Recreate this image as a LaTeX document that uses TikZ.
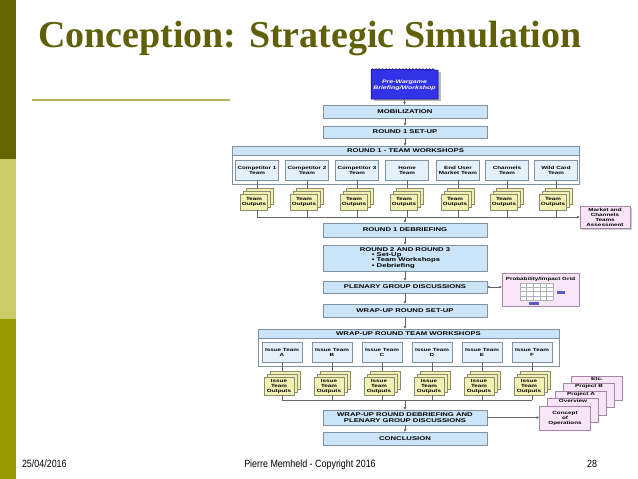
\documentclass[tikz,border=0pt]{standalone}
\usepackage{fontspec}
\setmainfont{Liberation Serif}
\newfontfamily\dsans[FakeStretch=1.4]{Liberation Sans}
\newfontfamily\fsans[FakeStretch=0.85]{Liberation Sans}
\usetikzlibrary{arrows.meta,shadows,decorations.pathmorphing}

\definecolor{olivedark}{RGB}{102,102,0}
\definecolor{olivelight}{RGB}{204,204,102}
\definecolor{olivemid}{RGB}{153,153,0}
\definecolor{titlecol}{RGB}{96,96,10}
\definecolor{ruleol}{RGB}{178,178,102}
\definecolor{flowfill}{RGB}{204,228,247}
\definecolor{flowdraw}{RGB}{130,146,165}
\definecolor{teamfill}{RGB}{228,241,251}
\definecolor{outfill}{RGB}{243,240,180}
\definecolor{outdraw}{RGB}{140,140,110}
\definecolor{pinkfill}{RGB}{248,230,248}
\definecolor{pinkdraw}{RGB}{165,135,165}
\definecolor{prefill}{RGB}{50,50,230}
\definecolor{linecol}{RGB}{100,100,100}
\definecolor{barblue}{RGB}{90,90,200}

\begin{document}
\begin{tikzpicture}[x=1pt,y=-1pt,
  every node/.style={inner sep=0pt, outer sep=0pt},
  flowbox/.style={draw=flowdraw, fill=flowfill, line width=0.6pt, minimum width=164pt,
     font=\dsans\bfseries\fontsize{5.5}{6}\selectfont, align=center},
  outerbox/.style={draw=flowdraw, fill=white, line width=0.6pt},
  headbox/.style={draw=flowdraw, fill=flowfill, line width=0.6pt, minimum height=9pt,
     font=\dsans\bfseries\fontsize{5.5}{6}\selectfont, anchor=north},
  teambox/.style={draw=flowdraw, fill=teamfill, line width=0.5pt, minimum width=43pt, minimum height=20pt,
     font=\dsans\bfseries\fontsize{4.5}{5}\selectfont, align=center},
  issuebox/.style={teambox, minimum width=40pt},
  outbox/.style={draw=outdraw, fill=outfill, line width=0.5pt, minimum width=27pt, minimum height=16pt,
     font=\dsans\bfseries\fontsize{4.5}{5}\selectfont, align=center,
     double copy shadow={shadow xshift=3pt, shadow yshift=3pt, draw=outdraw, fill=outfill, line width=0.5pt}},
  issueout/.style={outbox, minimum width=30pt, minimum height=18pt},
  pinkbox/.style={draw=pinkdraw, fill=pinkfill, line width=0.5pt,
     font=\dsans\bfseries\fontsize{4.5}{5}\selectfont, align=center},
  stackbox/.style={pinkbox, minimum width=51pt, minimum height=24pt},
  stacklab/.style={font=\dsans\bfseries\fontsize{4.5}{5}\selectfont, anchor=north},
  conn/.style={draw=linecol, line width=0.6pt},
  connarr/.style={conn, -{Latex[length=3pt,width=3pt]}},
  foot/.style={font=\fsans\fontsize{10.5}{12}\selectfont}
]
\fill[white] (0,0) rectangle (638,479);
\useasboundingbox (0,0) rectangle (638,479);

% left stripe
\fill[olivedark] (0,0) rectangle (16,159);
\fill[olivelight] (0,159) rectangle (16,319);
\fill[olivemid] (0,319) rectangle (16,479);

% title
\node[anchor=base west, text=titlecol, font=\bfseries\fontsize{38}{40}\selectfont] (title) at (38,47) {Conception: Strategic Simulation};
\draw[ruleol, line width=2pt] (32,100) -- (230,100);

% footer
\node[foot, anchor=base west] (date) at (22,467) {25/04/2016};
\node[foot, anchor=base] (copy) at (310,467) {Pierre Memheld - Copyright 2016};
\node[foot, anchor=base east] (page) at (597,467) {28};

% pre-wargame box
\fill[gray!55] (374,72) rectangle (441,101);
\draw[draw=blue!40!black, fill=prefill, line width=0.5pt] (371,99) -- (371,70)
   decorate[decoration={bumps, segment length=6.7pt, amplitude=1.3pt}]{-- (438,70)} -- (438,99) -- cycle;
\node[text=white, font=\dsans\bfseries\itshape\fontsize{5}{6}\selectfont, align=center] (pre) at (404.5,85) {Pre-Wargame\\Briefing/Workshop};

% main flow
\node[flowbox, minimum height=13pt] (mob) at (405,111.5) {MOBILIZATION};
\node[flowbox, minimum height=12pt] (r1set) at (405,132) {ROUND 1 SET-UP};

\node[outerbox, minimum width=347pt, minimum height=38pt] (r1ws) at (405.5,165) {};
\node[headbox, minimum width=347pt] (r1hd) at (r1ws.north) {ROUND 1 - TEAM WORKSHOPS};

\node[teambox] (c1) at (257,170) {Competitor 1\\Team};
\node[teambox] (c2) at (307,170) {Competitor 2\\Team};
\node[teambox] (c3) at (357,170) {Competitor 3\\Team};
\node[teambox] (c4) at (407,170) {Home\\Team};
\node[teambox] (c5) at (458,170) {End User\\Market Team};
\node[teambox] (c6) at (507,170) {Channels\\Team};
\node[teambox] (c7) at (556,170) {Wild Card\\Team};

\foreach \i/\x in {1/257,2/307,3/357,4/407,5/458,6/507,7/556}{
  \node[outbox] (o\i) at (\x-3,202) {Team\\Outputs};
}

\node[pinkbox, minimum width=50pt, minimum height=22pt, drop shadow={shadow xshift=1.5pt, shadow yshift=-1.5pt, opacity=0.4}] (mk) at (605,217) {Market and\\Channels\\Teams\\Assessment};

\coordinate (bus1) at (257,217);

\node[flowbox, minimum height=14pt] (r1deb) at (405,230) {ROUND 1 DEBRIEFING};
\node[flowbox, minimum height=26pt] (r2) at (405,258) {\begin{tabular}{@{}l@{}}ROUND 2 AND ROUND 3\\[-0.6pt]
   \hspace*{12pt}\textbullet\ Set-Up\\[-0.6pt]
   \hspace*{12pt}\textbullet\ Team Workshops\\[-0.6pt]
   \hspace*{12pt}\textbullet\ Debriefing\end{tabular}};
\node[flowbox, minimum height=12pt] (plen) at (405,287) {PLENARY GROUP DISCUSSIONS};
\node[flowbox, minimum height=13pt] (wset) at (405,310.5) {WRAP-UP ROUND SET-UP};

% probability grid
\node[pinkbox, minimum width=77pt, minimum height=33pt] (grid) at (540.5,289.5) {};
\node[font=\dsans\bfseries\fontsize{4.5}{5}\selectfont] (gridt) at (540.5,279) {Probability/Impact Grid};
\fill[white] (520,283) rectangle (553,300);
\foreach \k in {0,...,5} { \draw[gray!60, line width=0.4pt] (520+\k*6.6,283) -- (520+\k*6.6,300); }
\foreach \k in {0,...,4} { \draw[gray!60, line width=0.4pt] (520,283+\k*4.25) -- (553,283+\k*4.25); }
\fill[barblue] (557,291) rectangle (565,293.5);
\fill[barblue] (529,302) rectangle (539,304.5);

% wrap-up workshops
\node[outerbox, minimum width=301pt, minimum height=37pt] (wws) at (408.5,347.5) {};
\node[headbox, minimum width=301pt] (wshd) at (wws.north) {WRAP-UP ROUND TEAM WORKSHOPS};

\node[issuebox] (i1) at (282,352) {Issue Team\\A};
\node[issuebox] (i2) at (332,352) {Issue Team\\B};
\node[issuebox] (i3) at (382,352) {Issue Team\\C};
\node[issuebox] (i4) at (432,352) {Issue Team\\D};
\node[issuebox] (i5) at (482,352) {Issue Team\\E};
\node[issuebox] (i6) at (532,352) {Issue Team\\F};

\foreach \i/\x in {1/282,2/332,3/382,4/432,5/482,6/532}{
  \node[issueout] (p\i) at (\x-3,386) {Issue\\Team\\Outputs};
}
\coordinate (bus2) at (282,400);

\node[flowbox, minimum height=15pt] (wdeb) at (405,417.5) {WRAP-UP ROUND DEBRIEFING AND\\PLENARY GROUP DISCUSSIONS};
\node[flowbox, minimum height=13pt] (concl) at (405,438.5) {CONCLUSION};

% concept stack
\node[stackbox] (etc) at (597,388) {};
\node[stacklab] (etcl) at ([yshift=-1pt]etc.north) {Etc.};
\node[stackbox] (pb) at (589,395.5) {};
\node[stacklab] (pbl) at ([yshift=-1pt]pb.north) {Project B};
\node[stackbox] (pa) at (581,403) {};
\node[stacklab] (pal) at ([yshift=-1pt]pa.north) {Project A};
\node[stackbox] (ov) at (573,410.5) {};
\node[stacklab] (ovl) at ([yshift=-1pt]ov.north) {Overview};
\node[stackbox] (cop) at (565,418) {Concept\\of\\Operations};

% connectors
\draw[connarr] (pre.south |- 0,99) -- (pre.south |- mob.north);
\draw[connarr] (mob.south) -- (r1set.north);
\draw[connarr] (r1set.south) -- (r1set.south |- r1ws.north);
\foreach \i in {1,...,7}{
  \draw[conn] (c\i.south) -- ++(0,8);
  \draw[conn] (c\i.south |- o\i.south) -- (c\i.south |- bus1);
}
\draw[connarr] (c1.south |- bus1) -- (mk.west);
\draw[connarr] (r1deb.north |- bus1) -- (r1deb.north);
\draw[connarr] (r1deb.south) -- (r2.north);
\draw[connarr] (r2.south) -- (plen.north);
\draw[conn, {Latex[length=2.5pt,width=2.5pt]}-{Latex[length=2.5pt,width=2.5pt]}] (plen.east) -- (plen.east -| grid.west);
\draw[connarr] (plen.south) -- (wset.north);
\draw[connarr] (wset.south) -- (wset.south |- wws.north);
\foreach \i in {1,...,6}{
  \draw[conn] (i\i.south) -- ++(0,9);
  \draw[conn] (i\i.south |- p\i.south) -- (i\i.south |- bus2);
}
\draw[conn] (i1.south |- bus2) -- (i6.south |- bus2);
\draw[connarr] (wdeb.north |- bus2) -- (wdeb.north);
\draw[connarr] (wdeb.south) -- (concl.north);
\draw[connarr] (wdeb.east) -- (wdeb.east -| cop.west);
\end{tikzpicture}
\end{document}
